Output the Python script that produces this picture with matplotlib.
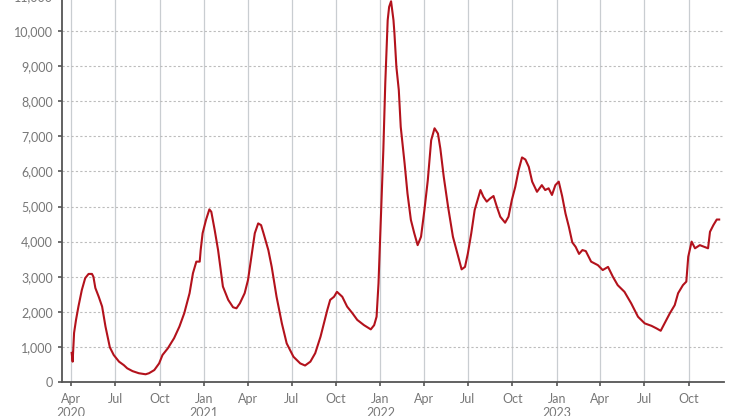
import pandas as pd
import matplotlib.pyplot as plt
import matplotlib.dates as mdates

plt.rcParams['font.family'] = ['Lato', 'DejaVu Sans']

# days since 2020-04-01 and the value
days = [1, 3, 6, 10, 15, 22, 29, 36, 43, 46, 50, 57, 64, 71, 80, 88, 99, 109, 116, 127,
        140, 154, 161, 172, 182, 189, 200, 213, 224, 234, 245, 252, 259, 266, 268, 272,
        279, 286, 290, 297, 304, 314, 325, 335, 342, 349, 359, 366, 373, 380, 387, 393,
        398, 408, 415, 425, 436, 446, 460, 474, 484, 495, 505, 516, 523, 530, 536, 544,
        550, 557, 561, 571, 582, 592, 606, 620, 627, 632, 636, 641, 646, 650, 655, 658,
        662, 667, 669, 673, 678, 682, 690, 696, 703, 710, 717, 724, 731, 738, 745, 752,
        759, 764, 771, 780, 790, 799, 808, 815, 821, 828, 835, 842, 847, 853, 860, 867,
        874, 881, 888, 898, 905, 912, 919, 926, 933, 940, 947, 954, 964, 974, 981, 988,
        995, 1002, 1009, 1016, 1023, 1030, 1037, 1044, 1051, 1058, 1065, 1076, 1090, 1100,
        1111, 1121, 1131, 1145, 1159, 1173, 1187, 1201, 1211, 1220, 1228, 1239, 1249, 1256,
        1266, 1273, 1277, 1284, 1291, 1301, 1312, 1318, 1322, 1329, 1336, 1341]
values = [830, 580, 1400, 1770, 2150, 2620, 2960, 3080, 3080, 3000, 2680, 2430, 2150, 1580,
          990, 770, 580, 480, 390, 310, 250, 220, 250, 340, 530, 770, 960, 1250, 1580, 1960,
          2530, 3100, 3430, 3430, 3760, 4240, 4620, 4920, 4850, 4330, 3760, 2720, 2340, 2130,
          2100, 2240, 2530, 2910, 3570, 4240, 4520, 4470, 4240, 3760, 3280, 2430, 1670, 1100,
          720, 530, 470, 580, 820, 1290, 1670, 2050, 2340, 2430, 2570, 2480, 2430, 2150, 1960,
          1770, 1620, 1500, 1620, 1860, 2810, 4710, 6610, 8510, 10310, 10690, 10850, 10310,
          9930, 8980, 8320, 7270, 6230, 5370, 4620, 4240, 3900, 4140, 4900, 5750, 6890, 7230,
          7080, 6650, 5850, 4990, 4140, 3670, 3210, 3280, 3670, 4240, 4900, 5230, 5470, 5280,
          5140, 5230, 5300, 4990, 4710, 4540, 4710, 5190, 5560, 6040, 6400, 6340, 6130, 5710,
          5420, 5610, 5470, 5520, 5330, 5610, 5710, 5300, 4800, 4420, 3980, 3850, 3650, 3760,
          3730, 3430, 3330, 3190, 3280, 3000, 2760, 2570, 2240, 1860, 1670, 1600, 1530, 1460,
          1670, 1960, 2190, 2530, 2760, 2860, 3570, 4000, 3810, 3900, 3840, 3810, 4280, 4470,
          4630, 4630]

dates = pd.Timestamp('2020-04-01') + pd.to_timedelta(days, unit='D')

tick_dates = pd.date_range('2020-04-01', '2023-10-01', freq='QS-JAN')
tick_labels = [d.strftime('%b') + ('\n%d' % d.year if d.month in (1, 4) and (d.month == 1 or d.year == 2020) else '')
               for d in tick_dates]
tick_labels = [t.replace('Apr\n2020', 'Apr\n2020') for t in tick_labels]

fig = plt.figure(figsize=(7.4, 4.16), dpi=100)
ax = fig.add_axes([62 / 740, 34 / 416, 662 / 740, 386 / 416])

ax.plot(dates, values, color='#b3121c', linewidth=1.5, zorder=3)

ax.set_xlim(pd.Timestamp('2020-03-13'), pd.Timestamp('2023-12-13'))
ax.set_ylim(0, 11000)
ax.set_yticks(range(0, 11001, 1000))
ax.set_yticklabels(['{:,}'.format(v) for v in range(0, 11001, 1000)])
ax.set_xticks(tick_dates)
ax.set_xticklabels(tick_labels)

ax.grid(axis='y', color='#bcbcbc', linestyle=(0, (2, 2)), linewidth=0.8)
ax.grid(axis='x', color='#c9cdd1', linestyle='-', linewidth=0.9)
ax.set_axisbelow(True)

for s in ['top', 'right']:
    ax.spines[s].set_visible(False)
ax.spines['left'].set_color('#555555')
ax.spines['bottom'].set_color('#555555')
ax.spines['left'].set_linewidth(1.3)
ax.spines['bottom'].set_linewidth(1.3)

ax.tick_params(axis='both', colors='#555555', labelcolor='#777777', labelsize=9, length=3, width=1.2)
ax.tick_params(axis='x', pad=5)

fig.savefig('out.png', dpi=100)
